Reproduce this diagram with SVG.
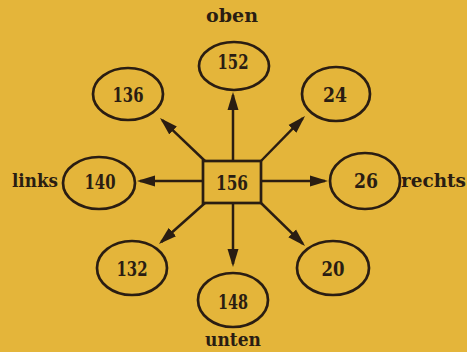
<svg xmlns="http://www.w3.org/2000/svg" width="467" height="352" viewBox="0 0 467 352">
  <style>
    .node ellipse, .node rect { fill: none; stroke: #2a1d12; stroke-width: 2.7; }
    .num { font-family: "DejaVu Serif Condensed", "DejaVu Serif", "Liberation Serif", serif; font-stretch: condensed; font-weight: bold; font-size: 21px; fill: #2a1d12; text-anchor: middle; }
    .lbl { font-family: "DejaVu Serif", "Liberation Serif", serif; font-weight: bold; font-size: 19px; fill: #2a1d12; }
    .conn line { stroke: #2a1d12; stroke-width: 2.5; marker-end: url(#arr); }
  </style>
  <defs>
    <marker id="arr" viewBox="0 0 18 12" refX="15" refY="6" markerWidth="18" markerHeight="12" markerUnits="userSpaceOnUse" orient="auto">
      <path d="M0,0.5 L18,6 L0,11.5 z" fill="#2a1d12"/>
    </marker>
  </defs>
  <rect x="0" y="0" width="467" height="352" fill="#e4b53a"/>

  <g class="conn">
    <line x1="233" y1="161" x2="233" y2="95"/>
    <line x1="205" y1="161" x2="162.2" y2="120.1"/>
    <line x1="261" y1="161" x2="302.9" y2="118.1"/>
    <line x1="203" y1="181" x2="140" y2="181"/>
    <line x1="261" y1="181" x2="325" y2="181"/>
    <line x1="205" y1="203" x2="161.2" y2="242"/>
    <line x1="233" y1="203" x2="233" y2="264"/>
    <line x1="261" y1="203" x2="302.9" y2="243.9"/>
  </g>

  <g id="n156" class="node">
    <rect x="203" y="161" width="58" height="42"/>
    <text class="num" x="232" y="190" textLength="32" lengthAdjust="spacingAndGlyphs">156</text>
  </g>
  <g id="n152" class="node">
    <ellipse cx="234" cy="66" rx="35" ry="24"/>
    <text class="num" x="233" y="69" textLength="31" lengthAdjust="spacingAndGlyphs">152</text>
  </g>
  <g id="n136" class="node">
    <ellipse cx="128" cy="94" rx="35" ry="26"/>
    <text class="num" x="128" y="102" textLength="31" lengthAdjust="spacingAndGlyphs">136</text>
  </g>
  <g id="n24" class="node">
    <ellipse cx="336" cy="94" rx="34" ry="27"/>
    <text class="num" x="335" y="102" textLength="24" lengthAdjust="spacingAndGlyphs">24</text>
  </g>
  <g id="n140" class="node">
    <ellipse cx="99" cy="183" rx="36" ry="26"/>
    <text class="num" x="100" y="189" textLength="31" lengthAdjust="spacingAndGlyphs">140</text>
  </g>
  <g id="n26" class="node">
    <ellipse cx="365" cy="181" rx="35" ry="28"/>
    <text class="num" x="366" y="188" textLength="24" lengthAdjust="spacingAndGlyphs">26</text>
  </g>
  <g id="n132" class="node">
    <ellipse cx="132" cy="268" rx="35" ry="27"/>
    <text class="num" x="132" y="276" textLength="31" lengthAdjust="spacingAndGlyphs">132</text>
  </g>
  <g id="n148" class="node">
    <ellipse cx="233" cy="300" rx="35" ry="27"/>
    <text class="num" x="233" y="309" textLength="30" lengthAdjust="spacingAndGlyphs">148</text>
  </g>
  <g id="n20" class="node">
    <ellipse cx="333" cy="268" rx="36" ry="27"/>
    <text class="num" x="333" y="276" textLength="23" lengthAdjust="spacingAndGlyphs">20</text>
  </g>

  <g id="labels">
    <text class="lbl" x="206" y="22" textLength="52" lengthAdjust="spacingAndGlyphs">oben</text>
    <text class="lbl" x="12" y="187" textLength="46" lengthAdjust="spacingAndGlyphs">links</text>
    <text class="lbl" x="401" y="187" textLength="65" lengthAdjust="spacingAndGlyphs">rechts</text>
    <text class="lbl" x="205" y="346" textLength="56" lengthAdjust="spacingAndGlyphs">unten</text>
  </g>
</svg>
